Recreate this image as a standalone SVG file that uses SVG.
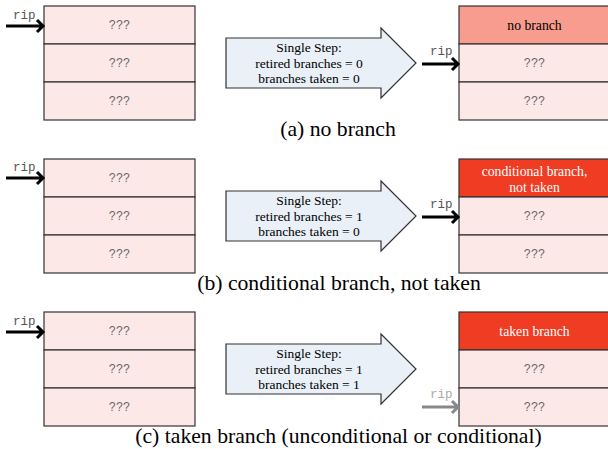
<svg xmlns="http://www.w3.org/2000/svg" width="608" height="449" viewBox="0 0 608 449">
<style>
.cell{fill:#fde8e8;stroke:#333;stroke-width:1.2}
.nb{fill:#f79c8e;stroke:#333;stroke-width:1.2}
.tb{fill:#f03c22;stroke:#333;stroke-width:1.2}
.q{font-family:'Liberation Mono','Courier New',monospace;font-size:12px;fill:#666;text-anchor:middle}
.rip{font-family:'Liberation Mono','Courier New',monospace;font-size:12.5px;fill:#555}
.ripg{font-family:'Liberation Mono','Courier New',monospace;font-size:12.5px;fill:#aaa}
.arr{fill:none;stroke:#000;stroke-width:3}
.arrg{fill:none;stroke:#888;stroke-width:3}
.big{fill:#e9f0f7;stroke:#333;stroke-width:1.2}
.bt{font-family:'Liberation Serif','Times New Roman',serif;font-size:13.5px;fill:#000;text-anchor:middle}
.ht{font-family:'Liberation Serif','Times New Roman',serif;font-size:13.7px;text-anchor:middle}
.cap{font-family:'Liberation Serif','Times New Roman',serif;font-size:21.7px;fill:#000;text-anchor:middle}
</style>
<defs>
<g id="mem">
<rect class="cell" x="0" y="0" width="151" height="38"/>
<rect class="cell" x="0" y="38" width="151" height="38"/>
<rect class="cell" x="0" y="76" width="151" height="38"/>
</g>
<polygon id="bigarrow" class="big" points="226,38 381,38 381,28 416,63 381,98 381,88 226,88"/>
</defs>

<!-- Panel (a) -->
<g id="a-left">
<use href="#mem" x="44" y="6"/>
<text class="q" x="119.5" y="29">???</text>
<text class="q" x="119.5" y="67">???</text>
<text class="q" x="119.5" y="105">???</text>
</g>
<g id="a-step">
<use href="#bigarrow"/>
<text class="bt" x="309" y="52">Single Step:</text>
<text class="bt" x="309" y="67.5">retired branches = 0</text>
<text class="bt" x="309" y="83">branches taken = 0</text>
</g>
<g id="a-right">
<rect class="nb" x="459" y="6" width="151" height="38"/>
<rect class="cell" x="459" y="44" width="151" height="38"/>
<rect class="cell" x="459" y="82" width="151" height="38"/>
<text class="ht" x="534.5" y="29.5" fill="#000">no branch</text>
<text class="q" x="534.5" y="67">???</text>
<text class="q" x="534.5" y="105">???</text>
</g>
<text class="cap" x="338" y="136">(a) no branch</text>

<!-- Panel (b) -->
<g id="b-left">
<use href="#mem" x="44" y="159"/>
<text class="q" x="119.5" y="182">???</text>
<text class="q" x="119.5" y="220">???</text>
<text class="q" x="119.5" y="258">???</text>
</g>
<g id="b-step">
<use href="#bigarrow" y="153"/>
<text class="bt" x="309" y="205">Single Step:</text>
<text class="bt" x="309" y="220.5">retired branches = 1</text>
<text class="bt" x="309" y="236">branches taken = 0</text>
</g>
<g id="b-right">
<rect class="tb" x="459" y="159" width="151" height="38"/>
<rect class="cell" x="459" y="197" width="151" height="38"/>
<rect class="cell" x="459" y="235" width="151" height="38"/>
<text class="ht" x="534.5" y="176" fill="#fff">conditional branch,</text>
<text class="ht" x="534.5" y="191.5" fill="#fff">not taken</text>
<text class="q" x="534.5" y="220">???</text>
<text class="q" x="534.5" y="258">???</text>
</g>
<text class="cap" x="339" y="290">(b) conditional branch, not taken</text>

<!-- Panel (c) -->
<g id="c-left">
<use href="#mem" x="44" y="312"/>
<text class="q" x="119.5" y="335">???</text>
<text class="q" x="119.5" y="373">???</text>
<text class="q" x="119.5" y="411">???</text>
</g>
<g id="c-step">
<use href="#bigarrow" y="306"/>
<text class="bt" x="309" y="358">Single Step:</text>
<text class="bt" x="309" y="373.5">retired branches = 1</text>
<text class="bt" x="309" y="389">branches taken = 1</text>
</g>
<g id="c-right">
<rect class="tb" x="459" y="312" width="151" height="38"/>
<rect class="cell" x="459" y="350" width="151" height="38"/>
<rect class="cell" x="459" y="388" width="151" height="38"/>
<text class="ht" x="534.5" y="335.5" fill="#fff">taken branch</text>
<text class="q" x="534.5" y="373">???</text>
<text class="q" x="534.5" y="411">???</text>
</g>
<text class="cap" x="338.5" y="443">(c) taken branch (unconditional or conditional)</text>

<!-- Connectors: rip pointers -->
<g id="connectors">
<text class="rip" x="13" y="19">rip</text>
<path class="arr" d="M6,26 H42 M37,20 L43,26 L37,32"/>
<text class="rip" x="430" y="55">rip</text>
<path class="arr" d="M422,64 H457 M452,58 L458,64 L452,70"/>

<text class="rip" x="13" y="171">rip</text>
<path class="arr" d="M6,178 H42 M37,172 L43,178 L37,184"/>
<text class="rip" x="430" y="208">rip</text>
<path class="arr" d="M422,217 H457 M452,211 L458,217 L452,223"/>

<text class="rip" x="13" y="325">rip</text>
<path class="arr" d="M6,332 H42 M37,326 L43,332 L37,338"/>
<text class="ripg" x="430" y="398">rip</text>
<path class="arrg" d="M422,407 H457 M452,401 L458,407 L452,413"/>
</g>
</svg>
